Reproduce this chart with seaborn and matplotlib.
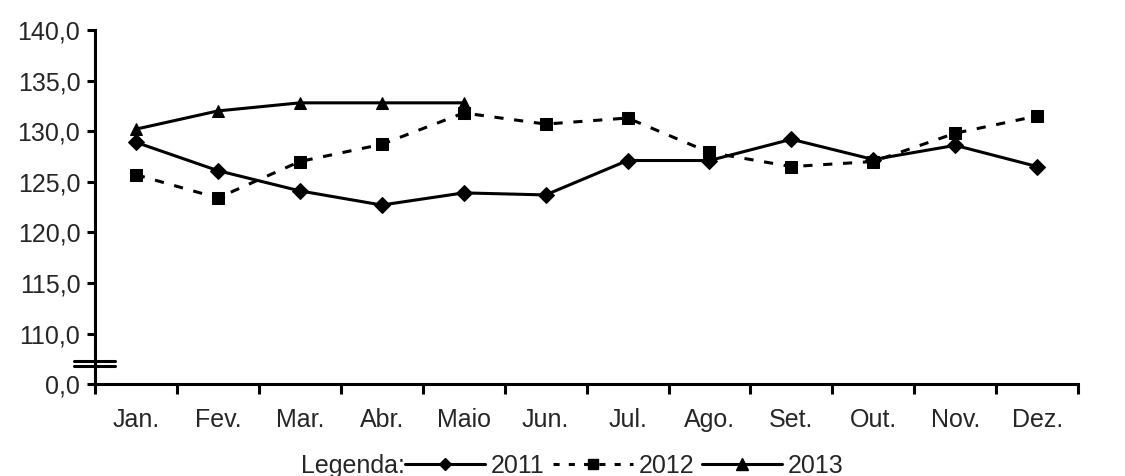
import matplotlib
matplotlib.use("Agg")
import matplotlib.pyplot as plt
from matplotlib.lines import Line2D
import pandas as pd
import seaborn as sns

# Monthly values
months = ["Jan.", "Fev.", "Mar.", "Abr.", "Maio", "Jun.", "Jul.", "Ago.", "Set.", "Out.", "Nov.", "Dez."]
vals_2011 = [128.9, 126.1, 124.1, 122.7, 123.9, 123.7, 127.1, 127.1, 129.2, 127.2, 128.6, 126.5]
vals_2012 = [125.7, 123.4, 127.0, 128.7, 131.8, 130.7, 131.3, 127.9, 126.5, 127.0, 129.8, 131.5]
vals_2013 = [130.2, 132.0, 132.8, 132.8, 132.8]
y_ticks = [105, 110, 115, 120, 125, 130, 135, 140]
y_labels = ["0,0", "110,0", "115,0", "120,0", "125,0", "130,0", "135,0", "140,0"]

rows = []
for year, vals in [("2011", vals_2011), ("2012", vals_2012), ("2013", vals_2013)]:
    for i, v in enumerate(vals):
        rows.append({"pos": i, "valor": v, "ano": year})
df = pd.DataFrame(rows)

sns.set_theme(style="white")
plt.rcParams["font.family"] = ["Liberation Sans", "DejaVu Sans"]
fs = 18

fig = plt.figure(figsize=(11.25, 4.76), dpi=100)
ax = fig.add_axes([0.0844, 0.193, 0.874, 0.744])

sns.lineplot(
    data=df, x="pos", y="valor", hue="ano", style="ano",
    palette=["black", "black", "black"],
    markers={"2011": "D", "2012": "s", "2013": "^"},
    dashes={"2011": "", "2012": (3, 3.5), "2013": ""},
    linewidth=2.2, markersize=8.5, markeredgecolor="black",
    ax=ax, legend=False,
)

ax.set_xlim(-0.5, len(months) - 0.5)
ax.set_ylim(105, 140)
ax.set_yticks(y_ticks)
ax.set_yticklabels(y_labels)
ax.set_xticks(range(len(months)))
ax.set_xticklabels(months)
ax.set_xticks([k - 0.5 for k in range(len(months) + 1)], minor=True)
ax.set_xlabel("")
ax.set_ylabel("")

for side in ["top", "right"]:
    ax.spines[side].set_visible(False)
for side in ["left", "bottom"]:
    ax.spines[side].set_color("black")
    ax.spines[side].set_linewidth(2.2)

ax.tick_params(axis="y", which="major", direction="out", length=6, width=2.2,
               color="black", labelsize=fs, pad=4.5, left=True)
ax.tick_params(axis="x", which="major", length=0, labelsize=fs, pad=17)
ax.tick_params(axis="x", which="minor", direction="out", length=7, width=2.2,
               color="black", bottom=True)

# axis break marks between 0,0 and 110,0
for yb in [0.066, 0.05]:
    ax.plot([-0.021, 0.02], [yb, yb], transform=ax.transAxes, color="black",
            linewidth=2.2, clip_on=False)

# legend row
handles = [
    Line2D([], [], color="black", lw=2.2, marker="D", markersize=6.5),
    Line2D([], [], color="black", lw=2.2, marker="s", markersize=6.5, dashes=(2, 3)),
    Line2D([], [], color="black", lw=2.2, marker="^", markersize=8),
]
ly = 1 - 466 / 476
fig.text(405 / 1125, ly, "Legenda:", fontsize=fs, va="center", ha="right")
fig.legend(handles, ["2011", "2012", "2013"], loc="center left",
           bbox_to_anchor=(405 / 1125, ly), ncol=3, frameon=False,
           fontsize=fs, handlelength=3.2, handletextpad=0.25, columnspacing=0.3,
           borderpad=0, borderaxespad=0)

fig.savefig("out.png", dpi=100, facecolor="white")
